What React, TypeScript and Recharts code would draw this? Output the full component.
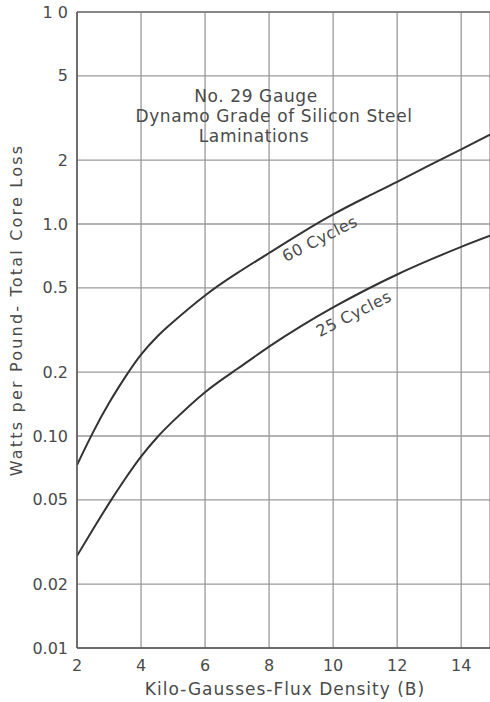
import React from "react";
import { LineChart, Line, XAxis, YAxis, CartesianGrid, ReferenceDot, ReferenceLine } from "recharts";

// kilogauss values where the curves were read
const fluxDensity = [2, 2.5, 3, 3.5, 4, 4.5, 5, 6, 7, 8, 9, 10, 11, 12, 13, 14, 14.9];
// watts per pound, 60 cycles
const loss60 = [0.073, 0.104, 0.143, 0.189, 0.242, 0.294, 0.345, 0.46, 0.586, 0.73, 0.906, 1.11, 1.33, 1.58, 1.89, 2.25, 2.64];
// watts per pound, 25 cycles
const loss25 = [0.0272, 0.0363, 0.0481, 0.0627, 0.08, 0.0984, 0.1175, 0.161, 0.207, 0.264, 0.33, 0.404, 0.487, 0.578, 0.675, 0.78, 0.88];

const xTicks = [2, 4, 6, 8, 10, 12, 14];
const yTicks = [0.01, 0.02, 0.05, 0.1, 0.2, 0.5, 1, 2, 5, 10];
const yTickLabels = ["0.01", "0.02", "0.05", "0.10", "0.2", "0.5", "1.0", "2", "5", "1 0"];

const titleLines = ["No. 29 Gauge", "Dynamo Grade of Silicon Steel", "Laminations"];

const FONT = "'DejaVu Sans', sans-serif";
const INK = "#4a4a4a";

const data = fluxDensity.map((b, i) => ({ b, c60: loss60[i], c25: loss25[i] }));

function curveLabel(text: string, angle: number) {
  return (props: any) => (
    <text
      x={props.cx}
      y={props.cy}
      transform={`rotate(${angle} ${props.cx} ${props.cy})`}
      textAnchor="middle"
      dominantBaseline="middle"
      fontFamily={FONT}
      fontSize={16}
      letterSpacing={0.5}
      fill={INK}
    >
      {text}
    </text>
  );
}

const textStyle = {
  textAnchor: "middle" as const,
  dominantBaseline: "middle" as const,
  fontFamily: FONT,
  fill: INK,
};

export default function App() {
  return (
    <div style={{ position: "absolute", left: 0, top: 0, width: 490, height: 702, background: "#fff" }}>
      <LineChart width={490} height={702} data={data} margin={{ top: 12, right: 0, bottom: 24, left: 17 }}>
        <CartesianGrid stroke="#9a9a9a" strokeWidth={1.3} />
        <XAxis
          dataKey="b"
          type="number"
          domain={[2, 14.9]}
          ticks={xTicks}
          allowDataOverflow
          height={30}
          tickLine={false}
          axisLine={{ stroke: "#555", strokeWidth: 1.5 }}
          tickMargin={6}
          tick={{ fontFamily: FONT, fontSize: 16, fill: INK }}
        />
        <YAxis
          scale="log"
          type="number"
          domain={[0.01, 10]}
          ticks={yTicks}
          allowDataOverflow
          width={60}
          tickLine={false}
          axisLine={{ stroke: "#555", strokeWidth: 1.5 }}
          tickMargin={3}
          tickFormatter={(v: number) => yTickLabels[yTicks.indexOf(v)] ?? String(v)}
          tick={{ fontFamily: FONT, fontSize: 16, fill: INK }}
        />
        <ReferenceLine y={10} stroke="#777" strokeWidth={1.5} />
        <Line type="natural" dataKey="c60" stroke="#333" strokeWidth={2} dot={false} isAnimationActive={false} />
        <Line type="natural" dataKey="c25" stroke="#333" strokeWidth={2} dot={false} isAnimationActive={false} />
        <ReferenceDot x={9.6} y={0.845} r={0} shape={curveLabel("60 Cycles", -27)} />
        <ReferenceDot x={10.66} y={0.374} r={0} shape={curveLabel("25 Cycles", -27)} />
        <text x={256} y={97} {...textStyle} fontSize={17} letterSpacing={0.6}>
          {titleLines[0]}
        </text>
        <text x={274} y={117} {...textStyle} fontSize={17} letterSpacing={0.6}>
          {titleLines[1]}
        </text>
        <text x={254} y={137} {...textStyle} fontSize={17} letterSpacing={0.6}>
          {titleLines[2]}
        </text>
        <text x={285} y={690} {...textStyle} fontSize={17} letterSpacing={1}>
          Kilo-Gausses-Flux Density (B)
        </text>
        <text x={17} y={310} transform="rotate(-90 17 310)" {...textStyle} fontSize={16} letterSpacing={2.2}>
          Watts per Pound- Total Core Loss
        </text>
      </LineChart>
    </div>
  );
}
